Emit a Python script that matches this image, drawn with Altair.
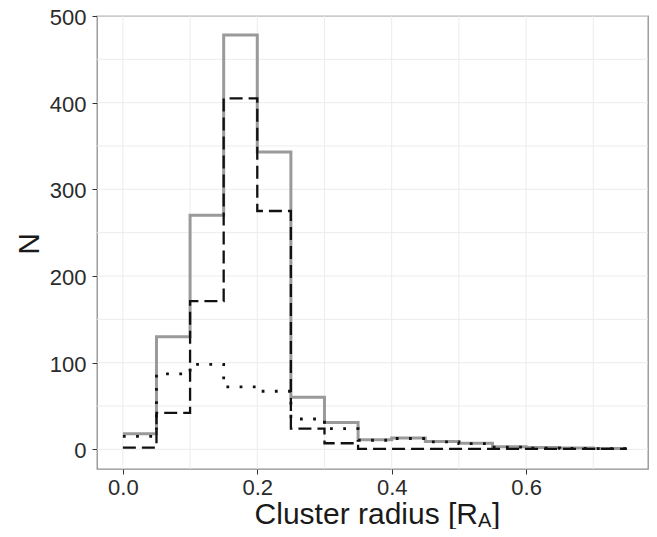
import altair as alt
import pandas as pd

# bin edges (cluster radius, R_A)
edges = [0.00, 0.05, 0.10, 0.15, 0.20, 0.25, 0.30, 0.35, 0.40, 0.45, 0.50, 0.55, 0.60, 0.65, 0.70, 0.75]
# counts per bin (15 bins)
total = [18, 130, 270, 478, 343, 60, 31, 11, 13, 9, 7, 3, 2, 1.5, 1]
dashed = [2, 42, 171, 405, 275, 24, 7, 0.5, 0.5, 0.5, 0.5, 0.5, 0.5, 0.5, 0.5]
dotted = [15, 87, 98, 72, 67, 35, 24, 10.5, 12.5, 8.5, 6.5, 2.5, 1.5, 1, 0.8]

x_ticks = [0.0, 0.2, 0.4, 0.6]
y_ticks = [0, 100, 200, 300, 400, 500]
x_grid = [0.0, 0.1, 0.2, 0.3, 0.4, 0.5, 0.6, 0.7]
y_grid = [0, 50, 100, 150, 200, 250, 300, 350, 400, 450, 500]

rows = []
for name, vals in [("total", total), ("dashed", dashed), ("dotted", dotted)]:
    ys = vals + [vals[-1]]
    for e, v in zip(edges, ys):
        rows.append({"series": name, "r": e, "n": v})
df = pd.DataFrame(rows)

xs = alt.Scale(domain=[-0.0385, 0.7814], nice=False, zero=False)
ys_ = alt.Scale(domain=[-22.7, 500], nice=False, zero=False)

FONT = "Liberation Sans"
W, H = 551, 453

xgrid = alt.Chart(pd.DataFrame({"g": x_grid})).mark_rule(color="#ececec", strokeWidth=1).encode(
    x=alt.X("g:Q", scale=xs, axis=alt.Axis(
        values=x_ticks, format=".1f", grid=False, domain=False, title=None,
        tickSize=5, tickColor="#333333", tickWidth=1,
        labelFontSize=22, labelFont=FONT, labelColor="#2b2b2b", labelPadding=3)))
ygrid = alt.Chart(pd.DataFrame({"g": y_grid})).mark_rule(color="#ececec", strokeWidth=1).encode(
    y=alt.Y("g:Q", scale=ys_, axis=alt.Axis(
        values=y_ticks, grid=False, domain=False, title="N",
        tickSize=5, tickColor="#333333", tickWidth=1,
        labelFontSize=22, labelFont=FONT, labelColor="#2b2b2b", labelPadding=6, labelOffset=1.5,
        titleFontSize=30, titleFont=FONT, titleFontWeight="normal", titleColor="#1a1a1a",
        titleAngle=270, titleX=-59, titleY=227.5, titleBaseline="alphabetic", titleAlign="center")))

def step(name, **kw):
    return alt.Chart(df).transform_filter(alt.datum.series == name).mark_line(
        interpolate="step-after", **kw).encode(
        x=alt.X("r:Q", scale=xs),
        y=alt.Y("n:Q", scale=ys_))

l_total = step("total", color="#9a9a9a", strokeWidth=3)
l_dashed = step("dashed", color="#111111", strokeWidth=2.3, strokeDash=[13, 6])
l_dotted = step("dotted", color="#111111", strokeWidth=2.8, strokeDash=[2.8, 10.4])

title_main = "Cluster radius [R"
title_sub = "A"
title_end = "]"

t1 = alt.Chart(pd.DataFrame({"t": [title_main]})).mark_text(
    align="right", baseline="alphabetic", fontSize=30, font=FONT, color="#1a1a1a").encode(
    text="t:N", x=alt.value(381), y=alt.value(H + 55))
t2 = alt.Chart(pd.DataFrame({"t": [title_sub]})).mark_text(
    align="left", baseline="alphabetic", fontSize=20, font=FONT, color="#1a1a1a").encode(
    text="t:N", x=alt.value(381), y=alt.value(H + 58))
t3 = alt.Chart(pd.DataFrame({"t": [title_end]})).mark_text(
    align="left", baseline="alphabetic", fontSize=30, font=FONT, color="#1a1a1a").encode(
    text="t:N", x=alt.value(395), y=alt.value(H + 55))

chart = alt.layer(xgrid, ygrid, l_total, l_dashed, l_dotted, t1, t2, t3).properties(
    width=W, height=H,
    autosize=alt.AutoSizeParams(type="none"),
    padding={"left": 89, "top": 8, "right": 1, "bottom": 60},
    background="white",
).configure_view(stroke="#8f8f8f", strokeWidth=1.3)

chart.save("out.html", embed_options={"renderer": "svg", "actions": False})
